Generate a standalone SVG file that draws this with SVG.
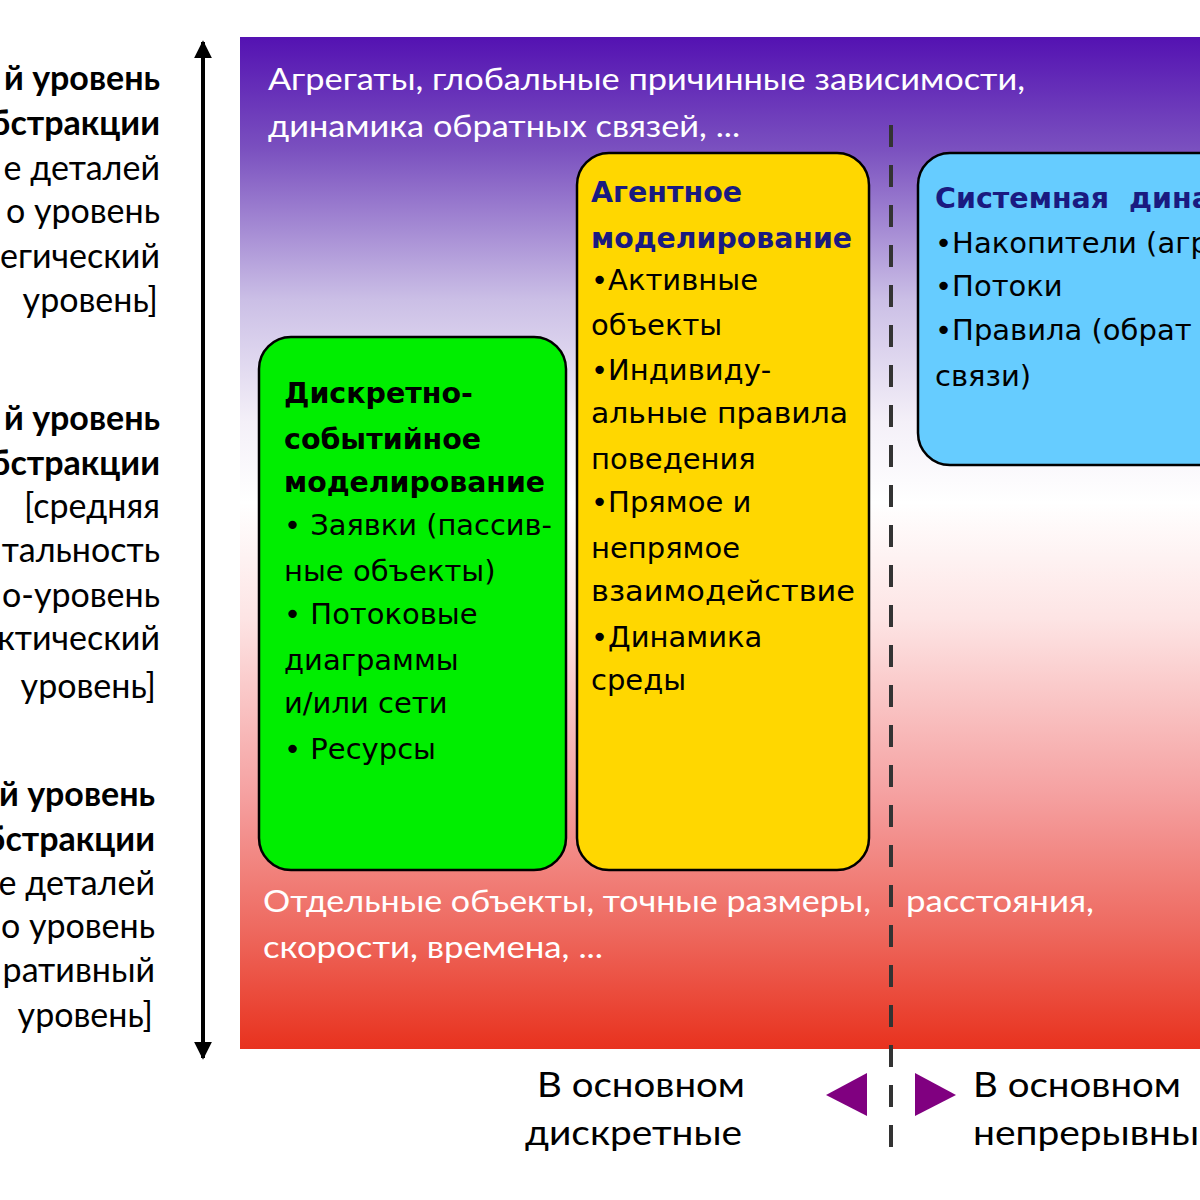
<svg xmlns="http://www.w3.org/2000/svg" width="1200" height="1200" viewBox="0 0 1200 1200">
<defs>
<linearGradient id="bg" x1="0" y1="0" x2="0" y2="1">
<stop offset="0" stop-color="#5412b2"/>
<stop offset="0.11" stop-color="#7a50bf"/>
<stop offset="0.26" stop-color="#cbbfe6"/>
<stop offset="0.38" stop-color="#f4f0f8"/>
<stop offset="0.46" stop-color="#ffffff"/>
<stop offset="0.575" stop-color="#fde4e4"/>
<stop offset="0.75" stop-color="#f5a0a0"/>
<stop offset="0.88" stop-color="#ee6a60"/>
<stop offset="1" stop-color="#e8321e"/>
</linearGradient>
<marker id="ah" viewBox="0 0 10 10" refX="9" refY="5" markerWidth="4.5" markerHeight="6" orient="auto-start-reverse" markerUnits="strokeWidth">
<path d="M0,0 L10,5 L0,10 z" fill="#000"/>
</marker>
<style>
.lbl{font-family:Lato,"Open Sans",sans-serif;font-size:34px;fill:#000;text-anchor:end}
.lb{font-weight:bold}
.wt{font-family:Lato,"Open Sans",sans-serif;font-size:30px;fill:#fff}
.bx{font-family:"DejaVu Sans",Verdana,sans-serif;font-size:29px;fill:#000}
.tt{font-weight:bold;font-size:28.5px}
.nv{fill:#1a1a80}
.bt{font-family:Lato,"Open Sans",sans-serif;font-size:34px;fill:#000}
.box{stroke:#000;stroke-width:2.5}
</style>
</defs>
<rect x="240" y="37" width="960" height="1012" fill="url(#bg)"/>

<g id="connectors">
<line x1="203" y1="42" x2="203" y2="1058" stroke="#000" stroke-width="4" marker-start="url(#ah)" marker-end="url(#ah)"/>
<line x1="891" y1="125" x2="891" y2="1156" stroke="#333" stroke-width="4" stroke-dasharray="22 18"/>
<polygon points="826,1095 867,1073 867,1116" fill="#800080"/>
<polygon points="915,1073 956,1095 915,1116" fill="#800080"/>
</g>

<g id="labels-left">
<text class="lbl lb" x="160" y="90">й уровень</text>
<text class="lbl lb" x="160" y="135">бстракции</text>
<text class="lbl" x="160" y="180">е деталей</text>
<text class="lbl" x="160" y="223">о уровень</text>
<text class="lbl" x="160" y="268">егический</text>
<text class="lbl" x="158" y="312">уровень]</text>

<text class="lbl lb" x="160" y="430">й уровень</text>
<text class="lbl lb" x="160" y="475">бстракции</text>
<text class="lbl" x="160" y="518">[средняя</text>
<text class="lbl" x="160" y="562">тальность</text>
<text class="lbl" x="160" y="607">о-уровень</text>
<text class="lbl" x="160" y="650">ктический</text>
<text class="lbl" x="156" y="698">уровень]</text>

<text class="lbl lb" x="155" y="806">й уровень</text>
<text class="lbl lb" x="155" y="851">бстракции</text>
<text class="lbl" x="155" y="895">е деталей</text>
<text class="lbl" x="155" y="938">о уровень</text>
<text class="lbl" x="155" y="982">ративный</text>
<text class="lbl" x="153" y="1027">уровень]</text>
</g>

<g id="top-text">
<text class="wt" x="268" y="90" textLength="757" lengthAdjust="spacingAndGlyphs">Агрегаты, глобальные причинные зависимости,</text>
<text class="wt" x="268" y="137" textLength="472" lengthAdjust="spacingAndGlyphs">динамика обратных связей, ...</text>
</g>

<g id="node-discrete">
<rect class="box" x="259" y="337" width="307" height="533" rx="32" fill="#00ee00"/>
<text class="bx tt" x="284" y="403">Дискретно-</text>
<text class="bx tt" x="284" y="449">событийное</text>
<text class="bx tt" x="284" y="492" textLength="261" lengthAdjust="spacingAndGlyphs">моделирование</text>
<text class="bx" x="284" y="535" textLength="268" lengthAdjust="spacingAndGlyphs">• Заявки (пассив-</text>
<text class="bx" x="284" y="581">ные объекты)</text>
<text class="bx" x="284" y="624">• Потоковые</text>
<text class="bx" x="284" y="670">диаграммы</text>
<text class="bx" x="284" y="713">и/или сети</text>
<text class="bx" x="284" y="759">• Ресурсы</text>
</g>

<g id="node-agent">
<rect class="box" x="577" y="153" width="292" height="717" rx="32" fill="#ffd700"/>
<text class="bx tt nv" x="591" y="202">Агентное</text>
<text class="bx tt nv" x="591" y="248" textLength="261" lengthAdjust="spacingAndGlyphs">моделирование</text>
<text class="bx" x="591" y="290">•Активные</text>
<text class="bx" x="591" y="335">объекты</text>
<text class="bx" x="591" y="380">•Индивиду-</text>
<text class="bx" x="591" y="423" textLength="257" lengthAdjust="spacingAndGlyphs">альные правила</text>
<text class="bx" x="591" y="469">поведения</text>
<text class="bx" x="591" y="512">•Прямое и</text>
<text class="bx" x="591" y="558">непрямое</text>
<text class="bx" x="591" y="601" textLength="264" lengthAdjust="spacingAndGlyphs">взаимодействие</text>
<text class="bx" x="591" y="647">•Динамика</text>
<text class="bx" x="591" y="690">среды</text>
</g>

<g id="node-sd">
<rect class="box" x="918" y="153" width="320" height="312" rx="32" fill="#66ccff"/>
<text class="bx tt nv" x="935" y="208" xml:space="preserve">Системная  дина</text>
<text class="bx" x="935" y="253">•Накопители (агр</text>
<text class="bx" x="935" y="296">•Потоки</text>
<text class="bx" x="935" y="340">•Правила (обрат</text>
<text class="bx" x="935" y="386">связи)</text>
</g>

<g id="bottom-text">
<text class="wt" x="263" y="912" textLength="608" lengthAdjust="spacingAndGlyphs">Отдельные объекты, точные размеры,</text>
<text class="wt" x="906" y="912" textLength="188" lengthAdjust="spacingAndGlyphs">расстояния,</text>
<text class="wt" x="263" y="958" textLength="340" lengthAdjust="spacingAndGlyphs">скорости, времена, ...</text>
</g>

<g id="axis-labels">
<text class="bt" x="537" y="1097" textLength="208" lengthAdjust="spacingAndGlyphs">В основном</text>
<text class="bt" x="525" y="1145" textLength="217" lengthAdjust="spacingAndGlyphs">дискретные</text>
<text class="bt" x="973" y="1097" textLength="208" lengthAdjust="spacingAndGlyphs">В основном</text>
<text class="bt" x="973" y="1145" textLength="226" lengthAdjust="spacingAndGlyphs">непрерывны</text>
</g>
</svg>
